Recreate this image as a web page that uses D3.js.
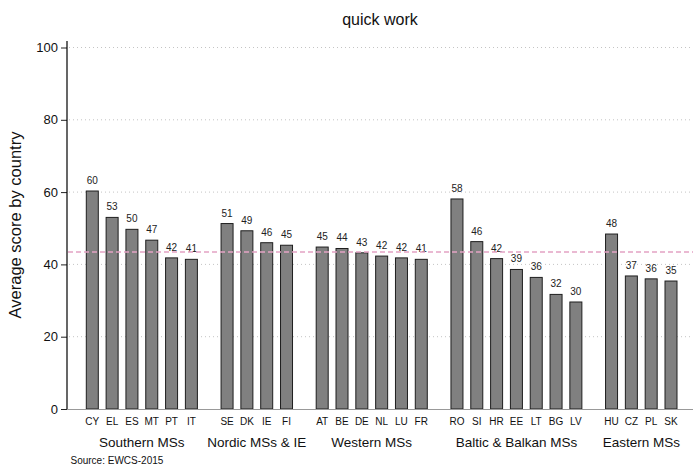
<!DOCTYPE html>
<html>
<head>
<meta charset="utf-8">
<script src="https://cdn.jsdelivr.net/npm/d3@7"></script>
<style>
  body { margin: 0; background: #fff; }
  text { font-family: "Liberation Sans", Arial, Helvetica, sans-serif; }
</style>
</head>
<body>
<div class="container"></div>
<script>
const countries = ["CY", "EL", "ES", "MT", "PT", "IT",
                   "SE", "DK", "IE", "FI",
                   "AT", "BE", "DE", "NL", "LU", "FR",
                   "RO", "SI", "HR", "EE", "LT", "BG", "LV",
                   "HU", "CZ", "PL", "SK"];
const groupOf = [0, 0, 0, 0, 0, 0,
                 1, 1, 1, 1,
                 2, 2, 2, 2, 2, 2,
                 3, 3, 3, 3, 3, 3, 3,
                 4, 4, 4, 4];
const groups = ["Southern MSs", "Nordic MSs & IE", "Western MSs", "Baltic & Balkan MSs", "Eastern MSs"];
const scores = [60.3, 53.0, 49.7, 46.7, 41.8, 41.4,
                51.3, 49.3, 46.0, 45.3,
                44.8, 44.4, 43.2, 42.3, 41.8, 41.4,
                58.1, 46.3, 41.6, 38.6, 36.4, 31.7, 29.6,
                48.4, 36.8, 36.0, 35.4];
const euAverage = 43.4;
const yTicks = [0, 20, 40, 60, 80, 100];

document.addEventListener("DOMContentLoaded", function () {
  const W = 694, H = 468;
  const left = 67, right = 693, top = 47.5, bottom = 409;
  const groupGap = 0.8; // extra slots between country groups

  const svg = d3.select(".container")
      .append("svg")
      .attr("width", W)
      .attr("height", H);

  const data = countries.map((c, i) => ({
    country: c,
    group: groupOf[i],
    score: scores[i],
    pos: i + groupOf[i] * groupGap
  }));

  const lastPos = d3.max(data, d => d.pos);
  const x = d3.scaleLinear()
      .domain([0, lastPos])
      .range([92.3, 671]);

  const y = d3.scaleLinear()
      .domain([0, 100])
      .range([bottom, top]);

  const barW = 12;

  // title
  svg.append("text")
      .attr("x", (left + right) / 2)
      .attr("y", 25)
      .attr("text-anchor", "middle")
      .attr("font-size", 16)
      .attr("fill", "#111")
      .text("quick work");

  // grid lines
  svg.append("g")
      .selectAll("line")
      .data(yTicks.filter(t => t > 0))
      .enter()
      .append("line")
      .attr("x1", left + 2)
      .attr("x2", right)
      .attr("y1", d => y(d))
      .attr("y2", d => y(d))
      .attr("stroke", "#c4c4c4")
      .attr("stroke-width", 1)
      .attr("stroke-dasharray", "1,3");

  // y axis
  const yAxis = d3.axisLeft(y).tickValues(yTicks).tickSize(6).tickPadding(3);
  const yg = svg.append("g")
      .attr("transform", `translate(${left}, 0)`)
      .call(yAxis);
  yg.select(".domain").remove();
  yg.selectAll(".tick line").attr("stroke", "#222");
  yg.selectAll(".tick text")
      .attr("font-size", 13)
      .attr("fill", "#111")
      .style("font-family", "'Liberation Sans', Arial, sans-serif");
  svg.append("line")
      .attr("x1", left).attr("x2", left)
      .attr("y1", 41).attr("y2", bottom)
      .attr("stroke", "#000")
      .attr("stroke-width", 1.2);

  svg.append("text")
      .attr("transform", `translate(21, ${(41 + bottom) / 2}) rotate(-90)`)
      .attr("text-anchor", "middle")
      .attr("font-size", 16.5)
      .attr("fill", "#111")
      .text("Average score by country");

  // bars
  svg.append("g")
      .selectAll("rect")
      .data(data)
      .enter()
      .append("rect")
      .attr("x", d => x(d.pos) - barW / 2)
      .attr("y", d => y(d.score))
      .attr("width", barW)
      .attr("height", d => y(0) - y(d.score))
      .attr("fill", "#808080")
      .attr("stroke", "#1e1e1e")
      .attr("stroke-width", 1);

  // value labels
  svg.append("g")
      .selectAll("text")
      .data(data)
      .enter()
      .append("text")
      .attr("x", d => x(d.pos))
      .attr("y", d => y(d.score) - 7)
      .attr("text-anchor", "middle")
      .attr("font-size", 10)
      .attr("fill", "#222")
      .text(d => d3.format(".0f")(d.score));

  // average line
  svg.append("line")
      .attr("x1", left + 1)
      .attr("x2", right)
      .attr("y1", y(euAverage))
      .attr("y2", y(euAverage))
      .attr("stroke", "#e3a3c4")
      .attr("stroke-width", 1.5)
      .attr("stroke-dasharray", "5,3");

  // baseline
  svg.append("line")
      .attr("x1", left)
      .attr("x2", right)
      .attr("y1", bottom + 0.5)
      .attr("y2", bottom + 0.5)
      .attr("stroke", "#999")
      .attr("stroke-width", 1);

  // country labels
  svg.append("g")
      .selectAll("text")
      .data(data)
      .enter()
      .append("text")
      .attr("x", d => x(d.pos))
      .attr("y", 424.5)
      .attr("text-anchor", "middle")
      .attr("font-size", 10)
      .attr("fill", "#111")
      .text(d => d.country);

  // group labels
  svg.append("g")
      .selectAll("text")
      .data(groups)
      .enter()
      .append("text")
      .attr("x", (g, gi) => {
        const members = data.filter(d => d.group === gi);
        return (x(members[0].pos) + x(members[members.length - 1].pos)) / 2;
      })
      .attr("y", 446.5)
      .attr("text-anchor", "middle")
      .attr("font-size", 13.5)
      .attr("fill", "#111")
      .text(g => g);

  svg.append("text")
      .attr("x", 70.5)
      .attr("y", 464)
      .attr("font-size", 10)
      .attr("fill", "#111")
      .text("Source: EWCS-2015");
});
</script>
</body>
</html>
